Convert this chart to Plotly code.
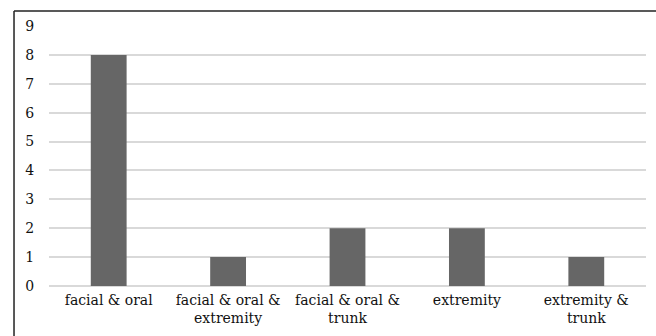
import plotly.graph_objects as go

categories = ["facial & oral", "facial & oral &<br>extremity", "facial & oral &<br>trunk", "extremity", "extremity &<br>trunk"]
values = [8, 1, 2, 2, 1]
y_ticks = [0, 1, 2, 3, 4, 5, 6, 7, 8, 9]

fig = go.Figure(go.Bar(x=categories, y=values, marker_color="#666666", marker_line_width=0))

font = "'DejaVu Serif', 'Liberation Serif', serif"
fig.update_layout(
    width=656, height=336,
    margin=dict(l=49, r=10, t=26, b=50),
    paper_bgcolor="white", plot_bgcolor="white",
    bargap=0.7,
    showlegend=False,
    font=dict(family=font, size=14, color="#111111"),
    xaxis=dict(showgrid=False, showline=False, ticks="", tickfont=dict(size=14),
               automargin=False, ticklabelstandoff=4),
    yaxis=dict(range=[0, 9], tickvals=y_ticks, showgrid=True, gridcolor="#d9d9d9",
               gridwidth=1.5, zeroline=True, zerolinecolor="#d9d9d9", zerolinewidth=1.5,
               ticks="outside", ticklen=11, tickcolor="rgba(0,0,0,0)", automargin=False,
               tickfont=dict(size=14, family=font)),
    shapes=[
        dict(type="line", xref="paper", yref="paper", x0=-0.0586, x1=1.5, y0=1.0577, y1=1.0577,
             line=dict(color="#222222", width=1.5), layer="below"),
        dict(type="line", xref="paper", yref="paper", x0=-0.0586, x1=-0.0586, y0=-0.5, y1=1.0577,
             line=dict(color="#222222", width=1.5), layer="below"),
    ],
)

fig.write_html("out.html", post_script="document.body.style.margin='0';",
               config={"displayModeBar": False})
